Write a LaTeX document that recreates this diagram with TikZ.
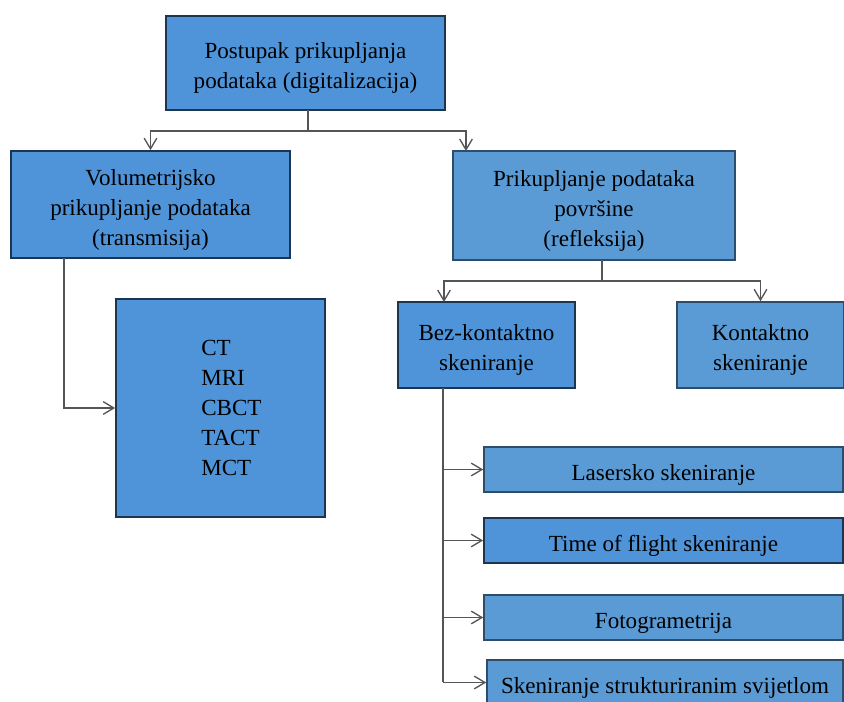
\documentclass[tikz,border=0pt]{standalone}
\usepackage{fontspec}
\setmainfont{Liberation Serif}
\usetikzlibrary{arrows.meta}
\definecolor{fillA}{HTML}{4F94D9}
\definecolor{fillB}{HTML}{5B9BD5}
\definecolor{edgeA}{HTML}{1C3550}
\definecolor{edgeB}{HTML}{2E4D6B}
\definecolor{conn}{HTML}{555555}
\newcommand{\lns}[1]{\raisebox{-3.5pt}[\height][\depth]{\begin{tabular}{@{}c@{}}#1\end{tabular}}}
\tikzset{
  boxA/.style={draw=edgeA, fill=fillA, line width=1.3pt, inner sep=0pt,
    font=\fontsize{17.3}{22.5}\selectfont, text=black},
  boxB/.style={draw=edgeB, fill=fillB, line width=1.1pt, inner sep=0pt,
    font=\fontsize{17.3}{22.5}\selectfont, text=black},
  txt/.style={inner sep=0pt, font=\fontsize{17.3}{22.5}\selectfont, text=black},
  link/.style={draw=conn, line width=1pt},
  arr/.style={link, -{Straight Barb[length=8pt,width=9.5pt,line width=1pt]}}
}
\begin{document}
\begin{tikzpicture}[x=0.75pt,y=-0.75pt]
\useasboundingbox (0,0) rectangle (844,702);
% boxes
\node[boxA, minimum width=209.25pt, minimum height=70.5pt] (top) at (305.5,63)
  {\lns{Postupak prikupljanja\\podataka (digitalizacija)}};
\node[boxA, minimum width=209.25pt, minimum height=80.25pt] (vol) at (150.5,204.5)
  {\lns{Volumetrijsko\\prikupljanje podataka\\(transmisija)}};
\node[boxB, minimum width=211.5pt, minimum height=81.75pt] (prik) at (594,205.5)
  {\lns{Prikupljanje podataka\\površine\\(refleksija)}};
\node[boxA, minimum width=156.75pt, minimum height=163.5pt] (ct) at (220.5,408) {};
\node[txt, align=left, anchor=west] (ctl) at (201,408) {CT\\MRI\\CBCT\\TACT\\MCT};
\node[boxA, minimum width=132.75pt, minimum height=64.5pt] (bez) at (486.5,345)
  {\lns{Bez-kontaktno\\skeniranje}};
\node[boxB, minimum width=125.25pt, minimum height=64.5pt] (kon) at (760.5,345)
  {\lns{Kontaktno\\skeniranje}};
\node[boxB, minimum width=269.25pt, minimum height=33.75pt] (las) at (663.5,469.5)
  {\lns{Lasersko skeniranje}};
\node[boxA, minimum width=269.25pt, minimum height=33.75pt] (tof) at (663.5,540.5)
  {\lns{Time of flight skeniranje}};
\node[boxB, minimum width=269.25pt, minimum height=33.75pt] (foto) at (663.5,617.5)
  {\lns{Fotogrametrija}};
\node[boxB, minimum width=267pt, minimum height=33.75pt] (skl) at (665,682.5)
  {\lns{Skeniranje strukturiranim svijetlom}};
% connector helper coordinates
\coordinate (t1) at (308,110);
\coordinate (j1) at (308,131);
\coordinate (pa) at (466,151);
\coordinate (v1) at (64,258);
\coordinate (p1) at (602,260);
\coordinate (j2) at (602,281);
\coordinate (ba) at (444,302);
\coordinate (b1) at (443,388);
% connectors
\draw[link] (t1) -- (j1);
\draw[arr] (j1) -| (vol.north);
\draw[arr] (j1) -| (pa);
\draw[arr] (v1) |- (ct.west);
\draw[link] (p1) -- (j2);
\draw[arr] (j2) -| (ba);
\draw[arr] (j2) -| (kon.north);
\draw[link] (b1) -- (b1 |- skl.west);
\draw[arr] (b1 |- las.west) -- (las.west);
\draw[arr] (b1 |- tof.west) -- (tof.west);
\draw[arr] (b1 |- foto.west) -- (foto.west);
\draw[arr] (b1 |- skl.west) -- (skl.west);
\end{tikzpicture}
\end{document}
